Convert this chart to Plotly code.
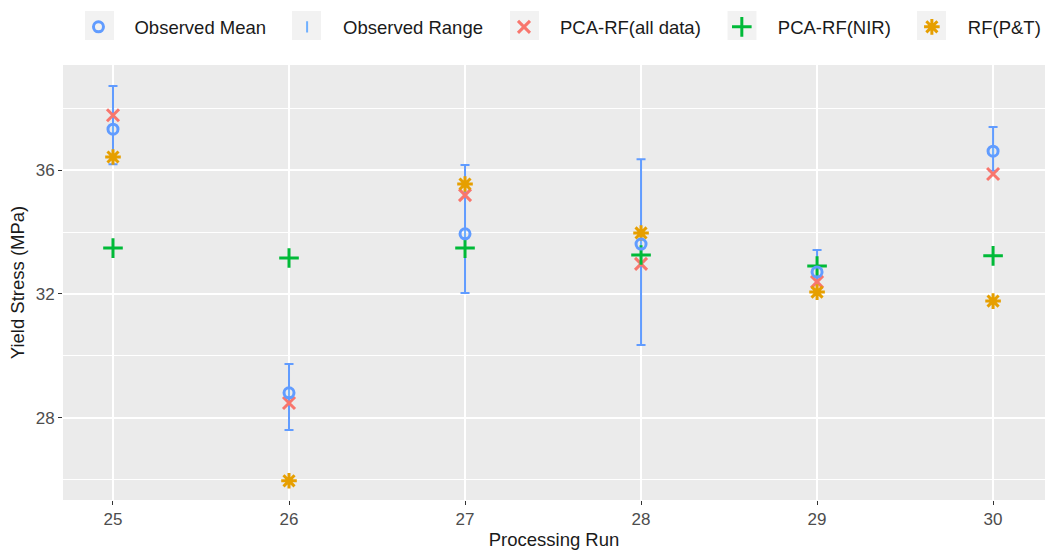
import plotly.graph_objects as go

runs = [25, 26, 27, 28, 29, 30]
obs_mean = [37.32, 28.81, 33.94, 33.61, 32.71, 36.61]
obs_max = [38.71, 29.74, 36.16, 36.35, 33.42, 37.39]
obs_min = [36.19, 27.61, 32.03, 30.35, 32.06, 35.98]
pca_rf_all = [37.77, 28.48, 35.19, 32.97, 32.39, 35.87]
pca_rf_nir = [33.48, 33.16, 33.48, 33.26, 32.90, 33.23]
rf_pt = [36.42, 25.97, 35.55, 33.97, 32.06, 31.77]

BLUE = "#619CFF"
RED = "#F8766D"
GREEN = "#00BA38"
ORANGE = "#E69F00"

W, H = 1050, 554
ML, MR, MT, MB = 63, 5, 65, 54

err_plus = [mx - m for mx, m in zip(obs_max, obs_mean)]
err_minus = [m - mn for mn, m in zip(obs_min, obs_mean)]

fig = go.Figure()

fig.add_trace(go.Scatter(
    x=runs, y=obs_mean, mode="markers", name="Observed Range",
    marker=dict(symbol="line-ns-open", size=8, color="#6FB0FF", line=dict(width=2, color="#6FB0FF")),
    error_y=dict(type="data", symmetric=False, array=err_plus, arrayminus=err_minus,
                 color=BLUE, thickness=2, width=4.5),
    legendrank=2,
))
fig.add_trace(go.Scatter(
    x=runs, y=pca_rf_all, mode="markers", name="PCA-RF(all data)",
    marker=dict(symbol="x-thin-open", size=12, color=RED, line=dict(width=3, color=RED)),
    legendrank=3,
))
fig.add_trace(go.Scatter(
    x=runs, y=pca_rf_nir, mode="markers", name="PCA-RF(NIR)",
    marker=dict(symbol="cross-thin-open", size=14, color=GREEN, line=dict(width=3, color=GREEN)),
    legendrank=4,
))
fig.add_trace(go.Scatter(
    x=runs, y=rf_pt, mode="markers", name="RF(P&T)",
    marker=dict(symbol="asterisk-open", size=13, color=ORANGE, line=dict(width=3, color=ORANGE)),
    legendrank=5,
))
fig.add_trace(go.Scatter(
    x=runs, y=obs_mean, mode="markers", name="Observed Mean",
    marker=dict(symbol="circle-open", size=10, color=BLUE, line=dict(width=3, color=BLUE)),
    legendrank=1,
))

# grey legend key backgrounds (ggplot legend.key style), placed behind the legend symbols
key_centers_px = [99.5, 306.5, 524.5, 742, 931.5]
pw, ph = W - ML - MR, H - MT - MB
shapes = []
for cx in key_centers_px:
    shapes.append(dict(type="rect", xref="paper", yref="paper",
                       x0=(cx - 14.5 - ML) / pw, x1=(cx + 14.5 - ML) / pw,
                       y0=(H - MB - 40) / ph, y1=(H - MB - 11) / ph,
                       fillcolor="#F2F2F2", line=dict(width=0), layer="above"))

fig.update_layout(
    width=W, height=H,
    margin=dict(l=ML, r=MR, t=MT, b=MB),
    paper_bgcolor="white",
    plot_bgcolor="#EBEBEB",
    font=dict(family="Liberation Sans, Arial, sans-serif", color="#222222"),
    showlegend=True,
    shapes=shapes,
    legend=dict(orientation="h", xref="container", x=0.0595, xanchor="left",
                yref="container", y=0.985, yanchor="top",
                font=dict(size=18.5, color="#1a1a1a"), itemwidth=62,
                traceorder="normal", bgcolor="rgba(0,0,0,0)"),
    xaxis=dict(range=[24.716, 30.295], tickmode="array", tickvals=runs,
               ticktext=[str(r) for r in runs], showgrid=True, gridcolor="white", gridwidth=1.5,
               zeroline=False, ticks="outside", ticklen=4, tickcolor="#333333",
               tickfont=dict(size=17, color="#4D4D4D"),
               title=dict(text="Processing Run", font=dict(size=18.5, color="#1a1a1a"), standoff=4)),
    yaxis=dict(range=[25.35, 39.39], tickmode="array", tickvals=[28, 32, 36],
               showgrid=True, gridcolor="white", gridwidth=1.5, zeroline=False,
               ticks="outside", ticklen=4, tickcolor="#333333",
               tickfont=dict(size=17, color="#4D4D4D"),
               minor=dict(tickmode="array", tickvals=[26, 30, 34, 38], showgrid=True,
                          gridcolor="white", gridwidth=0.8, ticks=""),
               title=dict(text="Yield Stress (MPa)", font=dict(size=18.5, color="#1a1a1a"), standoff=6)),
)

fig.write_html("out.html")
